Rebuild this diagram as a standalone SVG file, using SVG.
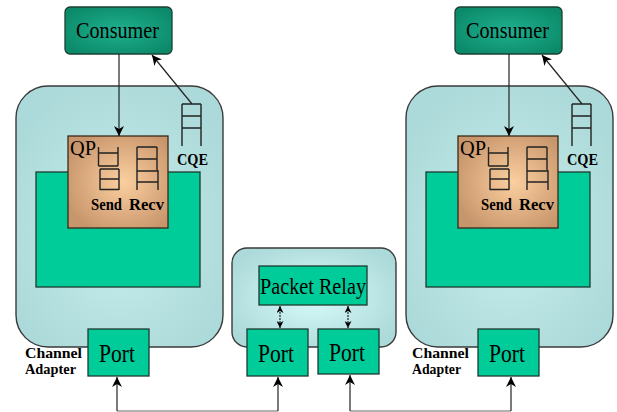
<svg xmlns="http://www.w3.org/2000/svg" width="617" height="412" viewBox="0 0 617 412">
<defs>
<radialGradient id="gCA" cx="0.5" cy="0.55" r="0.6">
<stop offset="0" stop-color="#c8eeee"/>
<stop offset="1" stop-color="#acd9d9"/>
</radialGradient>
<radialGradient id="gSW" cx="0.5" cy="0.5" r="0.6">
<stop offset="0" stop-color="#d8fafa"/>
<stop offset="1" stop-color="#acd9d9"/>
</radialGradient>
<radialGradient id="gCons" cx="0.5" cy="0.5" r="0.6">
<stop offset="0" stop-color="#1fb08e"/>
<stop offset="1" stop-color="#0b8a69"/>
</radialGradient>
<radialGradient id="gQP" cx="0.55" cy="0.5" r="0.6">
<stop offset="0" stop-color="#fbcf9f"/>
<stop offset="1" stop-color="#c8966c"/>
</radialGradient>
<marker id="ah" viewBox="0 0 10 10" refX="10" refY="5" markerWidth="10" markerHeight="10" markerUnits="userSpaceOnUse" orient="auto">
<path d="M0,0 L10,5 L0,10 L3,5 z" fill="#000"/>
</marker>
<marker id="ahs" viewBox="0 0 10 10" refX="10" refY="5" markerWidth="7" markerHeight="7" markerUnits="userSpaceOnUse" orient="auto-start-reverse">
<path d="M0,0 L10,5 L0,10 L3,5 z" fill="#000"/>
</marker>
</defs>
<style>
.ca{fill:url(#gCA);stroke:#3a3a3a;stroke-width:1.4}
.sw{fill:url(#gSW);stroke:#3a3a3a;stroke-width:1.4}
.cons{fill:url(#gCons);stroke:#1c3f35;stroke-width:1.3}
.grn{fill:#00cc99;stroke:#1e3a30;stroke-width:1.3}
.qp{fill:url(#gQP);stroke:#3a2a1a;stroke-width:1.3}
.lad{fill:none;stroke:#222;stroke-width:1.4}
.t{font-family:"Liberation Serif","Times New Roman",serif;fill:#000}
.b{font-weight:bold}
.ln{fill:none;stroke:#222;stroke-width:1.2}
.gl{fill:none;stroke:#999;stroke-width:1.3}
</style>

<g id="left-ca">
<rect class="ca" x="16" y="86" width="207" height="261" rx="32" ry="32"/>
<rect class="grn" x="36" y="172" width="164" height="115"/>
<text class="t b" x="25" y="358" font-size="14" textLength="57" lengthAdjust="spacingAndGlyphs">Channel</text>
<text class="t b" x="25" y="374" font-size="14" textLength="51" lengthAdjust="spacingAndGlyphs">Adapter</text>
</g>
<g id="left-consumer">
<rect class="cons" x="65" y="7" width="107" height="47" rx="5"/>
<text class="t" x="76" y="38" font-size="24" textLength="83" lengthAdjust="spacingAndGlyphs">Consumer</text>
</g>
<g id="left-qp">
<rect class="qp" x="68" y="136" width="100" height="92"/>
<text class="t" x="70" y="155" font-size="22" textLength="26" lengthAdjust="spacingAndGlyphs">QP</text>
<path class="lad" d="M98.5,147 V166 M118,147 V166 M98.5,153 H118 M98.5,166 H118 M100,169 V190 M119,169 V190 M100,169 H119 M100,179 H119 M100,189.5 H119"/>
<path class="lad" d="M137,147 V190 M157,147 V170 M158,170 V190 M137,147 H157 M137,159 H157 M137,171 H158 M137,182 H158"/>
<text class="t b" x="91" y="210" font-size="17" textLength="31" lengthAdjust="spacingAndGlyphs">Send</text>
<text class="t b" x="129" y="210" font-size="17" textLength="35" lengthAdjust="spacingAndGlyphs">Recv</text>
</g>
<g id="left-cqe">
<path class="lad" d="M182,104 V146 M201,104 V146 M182,104 H201 M182,116 H201 M182,128 H201"/>
<text class="t b" x="177" y="165" font-size="17" textLength="31" lengthAdjust="spacingAndGlyphs">CQE</text>
</g>
<g id="left-port">
<rect class="grn" x="88" y="329" width="61" height="47"/>
<text class="t" x="99" y="362" font-size="25" textLength="36" lengthAdjust="spacingAndGlyphs">Port</text>
</g>

<g id="switch">
<rect class="sw" x="232" y="248" width="164" height="99" rx="15" ry="15"/>
</g>
<g id="packet-relay">
<rect class="grn" x="259" y="266" width="108" height="39"/>
<text class="t" x="260" y="294" font-size="24" textLength="106" lengthAdjust="spacingAndGlyphs">Packet Relay</text>
</g>
<g id="switch-port-1">
<rect class="grn" x="247" y="329" width="61" height="47"/>
<text class="t" x="258" y="362" font-size="25" textLength="36" lengthAdjust="spacingAndGlyphs">Port</text>
</g>
<g id="switch-port-2">
<rect class="grn" x="318" y="329" width="61" height="45"/>
<text class="t" x="329" y="361" font-size="25" textLength="36" lengthAdjust="spacingAndGlyphs">Port</text>
</g>

<g id="right-ca">
<rect class="ca" x="406" y="86" width="207" height="261" rx="32" ry="32"/>
<rect class="grn" x="426" y="172" width="164" height="115"/>
<text class="t b" x="412" y="358" font-size="14" textLength="57" lengthAdjust="spacingAndGlyphs">Channel</text>
<text class="t b" x="412" y="374" font-size="14" textLength="49" lengthAdjust="spacingAndGlyphs">Adapter</text>
</g>
<g id="right-consumer">
<rect class="cons" x="455" y="7" width="107" height="47" rx="5"/>
<text class="t" x="466" y="38" font-size="24" textLength="83" lengthAdjust="spacingAndGlyphs">Consumer</text>
</g>
<g id="right-qp">
<rect class="qp" x="458" y="136" width="100" height="92"/>
<text class="t" x="460" y="155" font-size="22" textLength="26" lengthAdjust="spacingAndGlyphs">QP</text>
<path class="lad" d="M488.5,147 V166 M508,147 V166 M488.5,153 H508 M488.5,166 H508 M490,169 V190 M509,169 V190 M490,169 H509 M490,179 H509 M490,189.5 H509"/>
<path class="lad" d="M527,147 V190 M547,147 V170 M548,170 V190 M527,147 H547 M527,159 H547 M527,171 H548 M527,182 H548"/>
<text class="t b" x="481" y="210" font-size="17" textLength="31" lengthAdjust="spacingAndGlyphs">Send</text>
<text class="t b" x="519" y="210" font-size="17" textLength="35" lengthAdjust="spacingAndGlyphs">Recv</text>
</g>
<g id="right-cqe">
<path class="lad" d="M572,104 V146 M591,104 V146 M572,104 H591 M572,116 H591 M572,128 H591"/>
<text class="t b" x="567" y="165" font-size="17" textLength="31" lengthAdjust="spacingAndGlyphs">CQE</text>
</g>
<g id="right-port">
<rect class="grn" x="478" y="329" width="61" height="47"/>
<text class="t" x="489" y="362" font-size="25" textLength="36" lengthAdjust="spacingAndGlyphs">Port</text>
</g>

<g id="connectors">
<line class="ln" x1="119" y1="54" x2="119" y2="136" marker-end="url(#ah)"/>
<line class="ln" x1="192" y1="104" x2="152" y2="55" stroke-width="1" marker-end="url(#ah)"/>
<line class="ln" x1="509" y1="54" x2="509" y2="136" marker-end="url(#ah)"/>
<line class="ln" x1="582" y1="104" x2="542" y2="55" stroke-width="1" marker-end="url(#ah)"/>
<line class="ln" x1="280" y1="306" x2="280" y2="328" stroke-width="1.4" stroke-dasharray="2,1" marker-start="url(#ahs)" marker-end="url(#ahs)"/>
<line class="ln" x1="348" y1="306" x2="348" y2="328" stroke-width="1.4" stroke-dasharray="2,1" marker-start="url(#ahs)" marker-end="url(#ahs)"/>
<path class="gl" d="M117,411 H278 M350,411 H511"/>
<line class="ln" x1="117" y1="411" x2="117" y2="377" marker-end="url(#ah)"/>
<line class="ln" x1="278" y1="411" x2="278" y2="377" marker-end="url(#ah)"/>
<line class="ln" x1="350" y1="411" x2="350" y2="375" marker-end="url(#ah)"/>
<line class="ln" x1="511" y1="411" x2="511" y2="377" marker-end="url(#ah)"/>
</g>
</svg>
